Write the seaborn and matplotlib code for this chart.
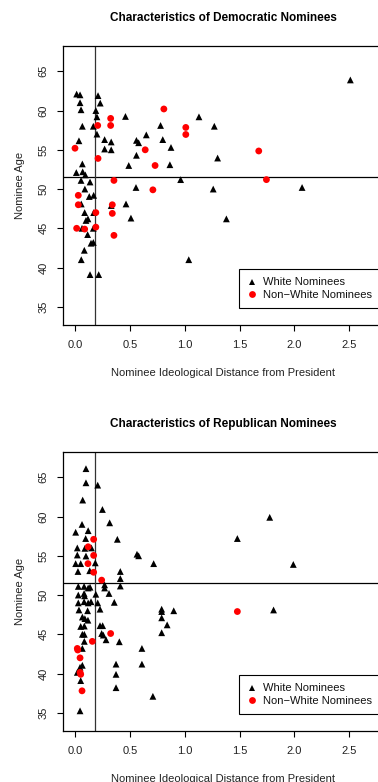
import matplotlib
matplotlib.use("Agg")
import matplotlib.pyplot as plt
import seaborn as sns
import pandas as pd

# ---------------- data ----------------
dem_white_x = [0.015, 0.046, 0.21, 0.046, 0.23, 0.055, 0.19, 0.20, 0.46, 1.13, 0.067, 0.167, 0.78, 1.27,
               0.20, 0.036, 0.27, 0.33, 0.56, 0.58, 0.65, 0.80, 0.27, 0.33, 0.875, 0.56, 1.30, 0.067,
               0.49, 0.865, 0.012, 0.07, 0.094, 0.055, 0.137, 0.556, 0.963, 1.26, 0.09, 2.51, 2.07,
               1.38, 0.13, 0.17, 0.057, 0.465, 0.33, 0.088, 0.17, 0.10, 0.118, 0.51, 0.064, 0.167,
               0.115, 0.146, 0.167, 0.085, 0.057, 1.037, 0.137, 0.216]
dem_white_y = [62.1, 62.0, 61.9, 61.0, 60.95, 60.1, 60.0, 59.2, 59.25, 59.2, 58.0, 58.0, 58.1, 58.0,
               57.0, 56.15, 56.3, 56.0, 56.2, 55.9, 56.9, 56.3, 55.1, 55.0, 55.3, 54.3, 53.95, 53.2,
               53.0, 53.1, 52.1, 52.2, 51.8, 51.1, 50.9, 50.2, 51.2, 50.0, 50.0, 63.9, 50.2,
               46.2, 49.05, 49.2, 48.1, 48.1, 47.9, 47.0, 47.0, 46.0, 46.2, 46.3, 45.0, 45.0,
               44.2, 43.1, 43.2, 42.2, 41.0, 41.0, 39.1, 39.1]
dem_nonwhite_x = [0.0, 0.207, 0.325, 0.325, 0.21, 0.64, 0.73, 0.81, 1.01, 1.01, 0.355, 0.71, 1.675,
                  1.745, 0.03, 0.03, 0.34, 0.34, 0.19, 0.015, 0.088, 0.19, 0.355]
dem_nonwhite_y = [55.2, 58.1, 59.0, 58.1, 53.9, 55.0, 53.0, 60.2, 57.85, 56.95, 51.1, 49.9, 54.85,
                  51.2, 49.2, 48.0, 48.0, 46.9, 47.0, 45.0, 44.9, 45.15, 44.1]

rep_white_x = [0.10, 0.10, 0.207, 0.07, 0.25, 0.064, 0.316, 0.006, 0.12, 0.097, 0.386, 0.021, 0.09,
               0.15, 0.021, 0.10, 0.565, 0.58, 0.717, 0.006, 0.052, 0.185, 0.027, 0.134, 0.413,
               0.413, 0.27, 0.27, 0.413, 0.03, 0.083, 0.12, 0.137, 0.03, 0.083, 0.088, 0.19, 0.31,
               0.03, 0.083, 0.12, 0.146, 0.207, 0.358, 0.228, 0.036, 0.115, 0.79, 0.79, 0.90, 0.79,
               0.067, 0.09, 0.118, 0.84, 0.052, 0.085, 0.228, 0.252, 0.79, 0.067, 0.085, 0.243,
               0.258, 0.283, 0.085, 0.404, 0.067, 0.61, 0.067, 0.046, 0.374, 0.61, 0.021, 0.374,
               0.052, 0.374, 0.71, 0.046, 1.775, 1.48, 1.99, 1.81]
rep_white_y = [66.1, 64.3, 64.0, 62.1, 60.9, 59.0, 59.2, 58.0, 58.2, 57.2, 57.1, 56.0, 55.95,
               56.0, 55.1, 54.97, 55.2, 55.0, 54.0, 54.0, 54.0, 54.1, 53.0, 53.1, 53.0,
               52.1, 51.3, 50.9, 51.15, 51.1, 51.1, 50.9, 51.0, 50.0, 50.2, 49.9, 50.1, 50.2,
               49.0, 49.15, 49.0, 49.15, 49.0, 49.07, 48.2, 48.1, 48.0, 48.2, 47.9, 48.0, 47.1,
               47.2, 47.0, 46.8, 46.2, 46.0, 46.05, 46.1, 46.1, 45.2, 45.0, 45.0, 45.1,
               44.9, 44.3, 44.1, 44.05, 43.2, 43.2, 41.05, 40.8, 41.2, 41.2, 40.15, 39.9,
               39.1, 38.2, 37.1, 35.25, 59.9, 57.2, 53.9, 48.1]
rep_nonwhite_x = [0.17, 0.12, 0.17, 0.118, 0.17, 0.243, 0.325, 0.158, 0.021, 0.025, 0.046, 0.046,
                  0.052, 0.064, 1.48]
rep_nonwhite_y = [57.1, 56.15, 55.05, 54.0, 52.9, 51.9, 45.1, 44.1, 43.2, 43.0, 42.0, 40.15,
                  39.9, 37.8, 47.9]

group_labels = ["White Nominees", "Non\u2212White Nominees"]
titles = ["Characteristics of Democratic Nominees", "Characteristics of Republican Nominees"]
x_ticks = [0.0, 0.5, 1.0, 1.5, 2.0, 2.5]
y_ticks = [35, 40, 45, 50, 55, 60, 65]
mean_age = 51.5
mean_dist = 0.18

# ---------------- figure ----------------
sns.set_style("white")
plt.rcParams["font.family"] = ["Liberation Sans", "DejaVu Sans"]

W, H = 378, 782
fig = plt.figure(figsize=(W / 100, H / 100), dpi=100)


def px_axes(left, top, right, bottom):
    return fig.add_axes([left / W, 1 - bottom / H, (right - left) / W, (bottom - top) / H])


def make_df(wx, wy, nx, ny):
    return pd.DataFrame({
        "dist": list(wx) + list(nx),
        "age": list(wy) + list(ny),
        "group": [group_labels[0]] * len(wx) + [group_labels[1]] * len(nx),
    })


panels = [
    (make_df(dem_white_x, dem_white_y, dem_nonwhite_x, dem_nonwhite_y), 45.7, 325.0, 71.3),
    (make_df(rep_white_x, rep_white_y, rep_nonwhite_x, rep_nonwhite_y), 451.7, 731.0, 477.3),
]

left_px, right_px = 63.3, 383.0
x0_px, x_per = 75.0, 109.7
y_per = 7.85

for i, (df, top, bottom, y65) in enumerate(panels):
    ax = px_axes(left_px, top, right_px, bottom)
    sns.scatterplot(data=df, x="dist", y="age", hue="group", style="group",
                    hue_order=group_labels, style_order=group_labels,
                    palette={group_labels[0]: "black", group_labels[1]: "red"},
                    markers={group_labels[0]: "^", group_labels[1]: "o"},
                    s=24, linewidth=0, ax=ax, legend=True, zorder=3)
    ax.axhline(mean_age, color="black", lw=0.9, zorder=2)
    ax.axvline(mean_dist, color="#333333", lw=0.9, zorder=2)

    ax.set_xlim((left_px - x0_px) / x_per, (right_px - x0_px) / x_per)
    ax.set_ylim(65 - (bottom - y65) / y_per, 65 + (y65 - top) / y_per)

    ax.set_xticks(x_ticks)
    ax.set_xticklabels([f"{v:.1f}" for v in x_ticks])
    ax.set_yticks(y_ticks)
    ax.set_yticklabels([str(v) for v in y_ticks], rotation=90, va="center")
    ax.tick_params(axis="both", direction="out", length=4.5, width=0.8, pad=6,
                   labelsize=8, color="black", labelcolor="#222222",
                   bottom=True, left=True)
    for sp in ax.spines.values():
        sp.set_color("black")
        sp.set_linewidth(0.9)
        sp.set_visible(True)

    ax.set_xlabel("Nominee Ideological Distance from President", fontsize=8, labelpad=13,
                  color="#222222")
    ax.set_ylabel("Nominee Age", fontsize=8, labelpad=10, color="#222222")
    ax.grid(False)

    fig.text(223 / W, 1 - (top - 27.5) / H, titles[i], ha="center", va="center",
             fontsize=8.5, fontweight="bold", color="black")

    sns.move_legend(ax, loc="lower left",
                    bbox_to_anchor=(0.5496, 0.061), title=None, frameon=True,
                    fontsize=8, borderaxespad=0, borderpad=0.75, handlelength=0.8,
                    handletextpad=0.6, labelspacing=0.2, fancybox=False,
                    framealpha=1, edgecolor="black")
    leg = ax.get_legend()
    leg.get_frame().set_linewidth(0.8)
    for t in leg.get_texts():
        t.set_color("#111111")

fig.savefig("out.png", dpi=100, facecolor="white")
